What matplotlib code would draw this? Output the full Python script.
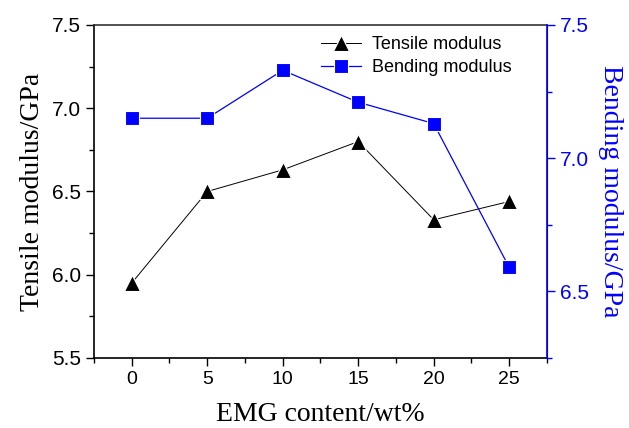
import numpy as np
import matplotlib
matplotlib.use("Agg")
import matplotlib.pyplot as plt
from matplotlib.ticker import MultipleLocator

# data
emg = [0, 5, 10, 15, 20, 25]
tensile = [5.95, 6.50, 6.63, 6.80, 6.33, 6.44]
bending = [7.15, 7.15, 7.33, 7.21, 7.13, 6.59]

BLUE = (0, 0, 1)

plt.rcParams['font.family'] = ['Liberation Sans', 'DejaVu Sans']

fig = plt.figure(figsize=(6.29, 4.28), dpi=100)
ax = fig.add_axes([0.1494, 0.1636, 0.7202, 0.778])
ax2 = ax.twinx()

l1, = ax.plot(emg, tensile, color='black', lw=0.7, marker='^', ms=12,
              mfc='black', mec='white', mew=0.8, label='Tensile modulus')
l2, = ax2.plot(emg, bending, color=BLUE, lw=0.9, marker='s', ms=10.5,
               mfc=BLUE, mec='white', mew=0.8, label='Bending modulus')

ax.set_xlim(-2.5, 27.5)
ax.set_ylim(5.5, 7.5)
ax2.set_ylim(6.25, 7.5)

ax.xaxis.set_major_locator(MultipleLocator(5))
ax.xaxis.set_minor_locator(MultipleLocator(2.5))
ax.yaxis.set_major_locator(MultipleLocator(0.5))
ax.yaxis.set_minor_locator(MultipleLocator(0.25))
ax2.yaxis.set_major_locator(MultipleLocator(0.5))
ax2.yaxis.set_minor_locator(MultipleLocator(0.25))

ax.yaxis.set_major_formatter(matplotlib.ticker.FormatStrFormatter('%.1f'))
ax2.yaxis.set_major_formatter(matplotlib.ticker.FormatStrFormatter('%.1f'))

ax.tick_params(axis='both', which='major', direction='out', length=6, width=1,
               labelsize=14)
ax.tick_params(axis='both', which='minor', direction='out', length=3.5, width=1)
ax.tick_params(axis='y', labelsize=15)
ax2.tick_params(axis='y', which='major', direction='out', length=6, width=1,
                colors=BLUE, labelsize=15)
ax2.tick_params(axis='y', which='minor', direction='out', length=3.5, width=1,
                colors=BLUE)

for s in ['left', 'bottom', 'top']:
    ax.spines[s].set_linewidth(1.2)
ax.spines['top'].set_color('#333333')
ax2.spines['right'].set_color(BLUE)
ax2.spines['right'].set_linewidth(1.2)
ax2.spines['left'].set_visible(False)
ax2.spines['top'].set_visible(False)
ax2.spines['bottom'].set_visible(False)

serif = ['Liberation Serif', 'DejaVu Serif']
ax.set_xlabel('EMG content/wt%', family=serif, fontsize=20, labelpad=10)
ax.set_ylabel('Tensile modulus/GPa', family=serif, fontsize=20, labelpad=5)
ax2.set_ylabel('Bending modulus/GPa', family=serif, fontsize=20, color=BLUE,
               rotation=-90, labelpad=24)

leg = ax2.legend(handles=[l1, l2], loc='upper right', frameon=False,
                 fontsize=13, bbox_to_anchor=(0.945, 1.0), handlelength=2.2,
                 labelspacing=0.35, borderaxespad=0.2, handletextpad=0.6)

fig.savefig('out.png', dpi=100)
